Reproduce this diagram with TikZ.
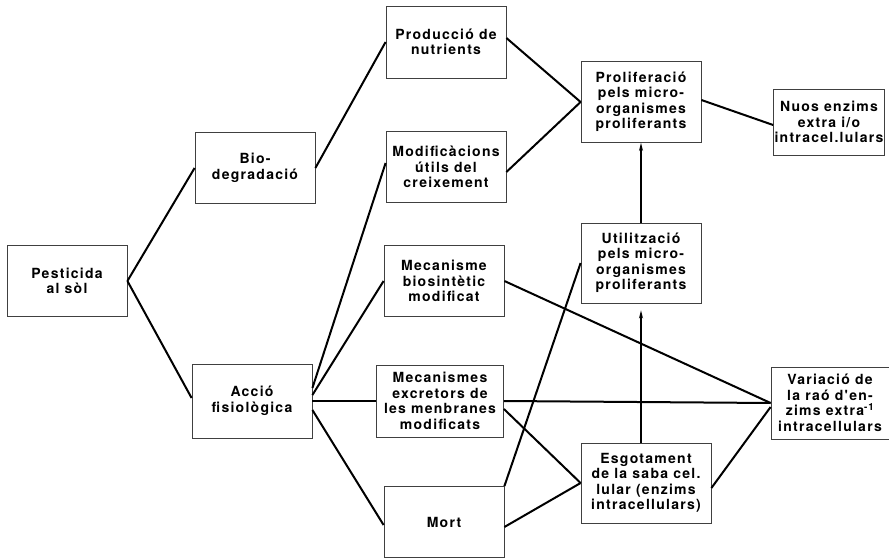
\documentclass[tikz,border=0pt]{standalone}
\usepackage{fontspec}
\setmainfont{TeX Gyre Heros}
\newfontfamily\boxfont[LetterSpace = 9.0]{TeX Gyre Heros}
\usetikzlibrary{arrows.meta}
\tikzset{
  box/.style = {draw = black!75, line width = 0.8pt, fill = white, align = center,
    font = \boxfont\bfseries\fontsize{14}{15.5}\selectfont, inner sep = 1pt,
    minimum width = 120, minimum height = 71},
  link/.style = {line width = 2pt},
  >={Stealth[length = 8pt, width = 4pt]}
}
\begin{document}
\begin{tikzpicture}[x = 1pt, y = -1pt]
    \useasboundingbox (0, 0) rectangle (889, 559);
    \node [box] (pest) at (67, 281) {Pesticida\\al sòl};
    \node [box] (bio) at (255, 168) {Bio-\\degradació};
    \node [box, minimum height = 74] (acc) at (252, 401) {Acció\\fisiològica};
    \node [box, minimum height = 72] (prod) at (446, 42) {Producció de\\nutrients};
    \node [box] (modif) at (446, 167) {Modificàcions\\útils del\\creixement};
    \node [box] (mecb) at (444, 281) {Mecanisme\\biosintètic\\modificat};
    \node [box, minimum width = 127, minimum height = 72] (exc) at (440, 401) {Mecanismes\\excretors de\\les menbranes\\modificats};
    \node [box] (mort) at (444, 522) {Mort};
    \node [box, minimum height = 81] (prolif) at (641, 102) {Proliferació\\pels micro-\\organismes\\proliferants};
    \node [box, minimum height = 80] (util) at (641, 263) {Utilització\\pels micro-\\organismes\\proliferants};
    \node [box, minimum width = 130, minimum height = 80] (esg) at (646, 483) {Esgotament\\de la saba cel.\\lular (enzims\\intracellulars)};
    \node [box, minimum width = 111, minimum height = 66] (nuos) at (829, 122) {Nuos enzims\\extra i/o\\intracel.lulars};
    \node [box, minimum width = 118, minimum height = 72] (var) at (830, 403) {Variació de\\la raó d'en-\\zims extra\textsuperscript{-1}\\intracellulars};

    \draw [link] (pest.east) -- (bio.west);
    \draw [link] (pest.east) -- ([yshift = 3pt] acc.west);
    \draw [link] (bio.east) -- (prod.west);
    \draw [link] ([yshift = 13pt] acc.east) -- ([yshift = 4pt] modif.west);
    \draw [link] ([yshift = 6pt] acc.east) -- (mecb.west);
    \draw [link] (acc.east) -- (exc.west);
    \draw [link] ([yshift = -9pt] acc.east) -- ([yshift = -3pt] mort.west);
    \draw [link] ([yshift = 4pt] prod.east) -- (prolif.west);
    \draw [link] ([yshift = -5pt] modif.east) -- (prolif.west);
    \draw [link] ([yshift = 2pt] prolif.east) -- ([yshift = -3pt] nuos.west);
    \draw [link, ->] (util.north) -- (prolif.south);
    \draw [link, ->] (util.south |- esg.north) -- ([yshift = -7pt] util.south);
    \draw [link] (mecb.east) -- (var.west);
    \draw [link] (exc.east) -- (var.west);
    \draw [link] ([yshift = -8pt] exc.east) -- (esg.west);
    \draw [link] (mort.north east) -- (util.west);
    \draw [link] ([yshift = -5pt] mort.east) -- (esg.west);
    \draw [link] ([yshift = -5pt] esg.east) -- ([yshift = -4pt] var.west);
\end{tikzpicture}
\end{document}
